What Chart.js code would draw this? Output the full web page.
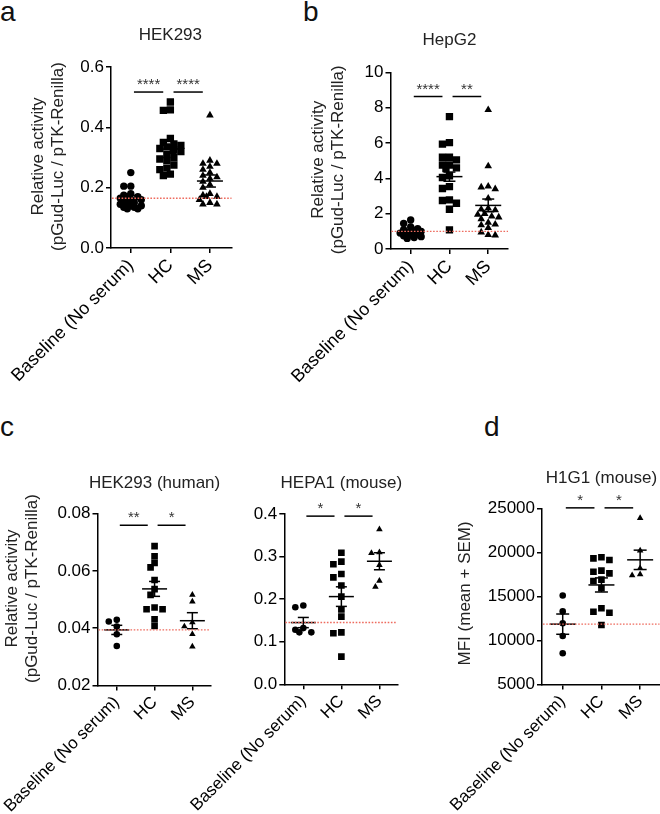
<!DOCTYPE html>
<html><head><meta charset="utf-8">
<script src="https://cdn.jsdelivr.net/npm/chart.js@4.4.1/dist/chart.umd.min.js"></script>
<style>
html,body{margin:0;padding:0;background:#fff;}
body{width:660px;height:814px;overflow:hidden;position:relative;}
canvas{position:absolute;}
.lt{position:absolute;font-family:'Liberation Sans',Arial,sans-serif;font-size:28px;line-height:28px;color:#111;}
</style></head><body>
<div class="lt" style="left:0;top:-2px">a</div>
<div class="lt" style="left:303px;top:-2px">b</div>
<div class="lt" style="left:0;top:413px">c</div>
<div class="lt" style="left:484px;top:413px">d</div>
<canvas id="pa" width="245" height="400" style="left:0;top:0"></canvas>
<canvas id="pb" width="240" height="400" style="left:280px;top:0"></canvas>
<canvas id="pc1" width="218" height="414" style="left:2px;top:400px"></canvas>
<canvas id="pc2" width="225" height="414" style="left:185px;top:400px"></canvas>
<canvas id="pd" width="230" height="414" style="left:430px;top:400px"></canvas>
<script>
// ---------------- data ----------------
const categories = ['Baseline (No serum)', 'HC', 'MS'];

// a: HEK293
const aBaseline = [0.25, 0.205, 0.205, 0.18, 0.175, 0.17, 0.17, 0.165, 0.16, 0.16, 0.155, 0.15, 0.15, 0.145, 0.14, 0.14, 0.135, 0.135, 0.13, 0.13];
const aHC = [0.484, 0.458, 0.456, 0.363, 0.35, 0.345, 0.34, 0.335, 0.33, 0.325, 0.32, 0.31, 0.30, 0.295, 0.29, 0.275, 0.265, 0.26, 0.245, 0.24];
const aMS = [0.44, 0.29, 0.28, 0.28, 0.27, 0.26, 0.25, 0.24, 0.235, 0.23, 0.22, 0.21, 0.2, 0.18, 0.175, 0.17, 0.17, 0.16, 0.15, 0.145, 0.145];
const aMeans = [0.165, 0.328, 0.222];
const aSEM = [0.009, 0.014, 0.02];
const aTicks = [0, 0.2, 0.4, 0.6];
const aTickLabels = ['0.0', '0.2', '0.4', '0.6'];
const aStars = ['****', '****'];
const aStarLevel = 0.517;

// b: HepG2
const bBaseline = [1.64, 1.45, 1.25, 1.15, 1.1, 1.05, 1.0, 0.95, 0.9, 0.85, 0.8, 0.75, 0.7, 0.65, 0.6];
const bHC = [7.5, 6.03, 5.94, 5.2, 5.2, 5.05, 4.76, 4.76, 4.6, 4.55, 4.15, 4.05, 3.53, 3.43, 2.78, 2.75, 2.59, 2.25, 1.08];
const bMS = [7.88, 4.7, 3.55, 3.5, 3.4, 2.87, 2.3, 2.25, 2.2, 2.0, 1.95, 1.85, 1.8, 1.7, 1.5, 1.4, 1.35, 1.2, 0.95, 0.8, 0.78];
const bMeans = [1.0, 4.1, 2.47];
const bSEM = [0.08, 0.26, 0.36];
const bTicks = [0, 2, 4, 6, 8, 10];
const bTickLabels = ['0', '2', '4', '6', '8', '10'];
const bStars = ['****', '**'];
const bStarLevel = 8.64;

// c: HEK293 (human)
const chBaseline = [0.0423, 0.0429, 0.0406, 0.0379, 0.0338];
const chHC = [0.0686, 0.0651, 0.0628, 0.0612, 0.0568, 0.0536, 0.0516, 0.0466, 0.0466, 0.0472, 0.0431, 0.0408];
const chMS = [0.0516, 0.0493, 0.042, 0.0406, 0.0379, 0.0336];
const chMeans = [0.0394, 0.0537, 0.0426];
const chSEM = [0.0016, 0.0026, 0.0028];
const chTicks = [0.02, 0.04, 0.06, 0.08];
const chTickLabels = ['0.02', '0.04', '0.06', '0.08'];
const chStars = ['**', '*'];
const chStarLevel = 0.0759;

// c: HEPA1 (mouse)
const cmBaseline = [0.185, 0.181, 0.132, 0.128, 0.122, 0.122];
const cmHC = [0.309, 0.288, 0.282, 0.259, 0.251, 0.232, 0.206, 0.176, 0.159, 0.122, 0.12, 0.065];
const cmMS = [0.364, 0.31, 0.308, 0.28, 0.243, 0.229];
const cmMeans = [0.145, 0.206, 0.289];
const cmSEM = [0.012, 0.023, 0.02];
const cmTicks = [0, 0.1, 0.2, 0.3, 0.4];
const cmTickLabels = ['0.0', '0.1', '0.2', '0.3', '0.4'];
const cmStars = ['*', '*'];
const cmStarLevel = 0.395;

// d: H1G1 (mouse)
const dBaseline = [15100, 13300, 11950, 10500, 8550];
const dHC = [19440, 19130, 19320, 17800, 17620, 17920, 16750, 16900, 15920, 13260, 13150, 13650, 11750];
const dMS = [23900, 20200, 18200, 17500, 17400];
const dMeans = [11850, 16300, 19150];
const dSEM = [1150, 800, 1100];
const dTicks = [5000, 10000, 15000, 20000, 25000];
const dTickLabels = ['5000', '10000', '15000', '20000', '25000'];
const dStars = ['*', '*'];
const dStarLevel = 25050;

// ---------------- drawing ----------------
const FONT = "'Liberation Sans', Arial, Helvetica, sans-serif";
Chart.defaults.font.family = FONT;

function makePlugin(p) {
  return {
    id: 'panelExtras',
    afterDatasetsUpdate(chart) {
      const sw = p.swarm;
      chart.data.datasets.forEach((ds, di) => {
        const meta = chart.getDatasetMeta(di);
        const els = meta.data.slice().sort((a, b) => a.y - b.y);
        const placed = [];
        els.forEach(el => {
          const cx = el.x;
          let best = 0, bestScore = -1;
          const n = Math.ceil(sw.max / sw.step);
          for (let k = 0; k <= 2 * n; k++) {
            const off = (k % 2 ? -1 : 1) * Math.ceil(k / 2) * sw.step;
            let minD = Infinity;
            placed.forEach(q => {
              const d = Math.hypot(q.x - (cx + off), q.y - el.y);
              if (d < minD) minD = d;
            });
            if (minD >= sw.dist) { best = off; bestScore = Infinity; break; }
            if (minD > bestScore) { bestScore = minD; best = off; }
          }
          el.x = cx + best;
          placed.push({x: el.x, y: el.y});
        });
      });
    },
    afterDatasetsDraw(chart) {
      const c = chart.ctx, xs = chart.scales.x, ys = chart.scales.y, ca = chart.chartArea;
      c.save();
      c.strokeStyle = '#000';
      c.lineWidth = 1.5;
      const seg = (x1, y1, x2, y2) => { c.beginPath(); c.moveTo(x1, y1); c.lineTo(x2, y2); c.stroke(); };
      // mean +/- SEM
      p.means.forEach((m, i) => {
        const x = xs.getPixelForValue(i);
        const ym = ys.getPixelForValue(m);
        const yt = ys.getPixelForValue(m + p.sems[i]);
        const yb = ys.getPixelForValue(m - p.sems[i]);
        seg(x - p.meanHalf, ym, x + p.meanHalf, ym);
        seg(x, yt, x, yb);
        seg(x - p.capHalf, yt, x + p.capHalf, yt);
        seg(x - p.capHalf, yb, x + p.capHalf, yb);
      });
      // significance bars
      const yS = ys.getPixelForValue(p.starLevel);
      c.fillStyle = '#333';
      c.font = '15px ' + FONT;
      c.textAlign = 'center';
      c.textBaseline = 'alphabetic';
      p.stars.forEach((s, i) => {
        const x1 = xs.getPixelForValue(i + 0.08), x2 = xs.getPixelForValue(i + 0.82);
        seg(x1, yS, x2, yS);
        c.fillText(s, (x1 + x2) / 2, yS - 3);
      });
      // baseline reference line (red dotted)
      const yr = ys.getPixelForValue(p.means[0]);
      c.strokeStyle = '#ee6b5e';
      c.lineWidth = 1.4;
      c.setLineDash([1.6, 1.6]);
      seg(ca.left + 1, yr, ca.right, yr);
      c.setLineDash([]);
      // panel title
      c.fillStyle = '#222';
      c.font = '17px ' + FONT;
      c.fillText(p.title, xs.getPixelForValue(1), p.titleY);
      // y-axis title (rotated, one or two lines)
      if (p.yTitle) {
        c.save();
        c.translate(p.pad.left + 10, (ca.top + ca.bottom) / 2 + p.yTitleShift);
        c.rotate(-Math.PI / 2);
        c.textBaseline = 'middle';
        c.fillStyle = '#222';
        p.yTitle.forEach((t, i) => c.fillText(t, 0, i * 20));
        c.restore();
      }
      c.restore();
    }
  };
}

function panel(id, p) {
  const shapes = ['circle', 'rect', 'triangle'];
  new Chart(document.getElementById(id), {
    type: 'scatter',
    data: {
      datasets: p.groups.map((vals, i) => ({
        data: vals.map(v => ({x: i, y: v})),
        pointStyle: shapes[i],
        pointRadius: p.r[i],
        pointHoverRadius: p.r[i],
        pointBackgroundColor: '#000',
        pointBorderColor: '#000',
        pointBorderWidth: 0
      }))
    },
    options: {
      responsive: false,
      animation: false,
      events: [],
      layout: {padding: p.pad, autoPadding: false},
      plugins: {legend: {display: false}, tooltip: {enabled: false}},
      scales: {
        x: {
          type: 'linear', min: p.xMin, max: p.xMax,
          afterBuildTicks: s => { s.ticks = [0, 1, 2].map(v => ({value: v})); },
          afterFit: s => { s.height = p.xH; s.paddingLeft = 0; s.paddingRight = 0; },
          ticks: {callback: v => categories[v], minRotation: 45, maxRotation: 45, autoSkip: false,
                  color: '#000', font: {size: p.catSize}, padding: 2},
          grid: {display: true, drawOnChartArea: false, drawTicks: true, tickLength: 5, color: '#000', lineWidth: 1.5},
          border: {display: true, color: '#000', width: 1.5}
        },
        y: {
          type: 'linear', min: p.ticks[0], max: p.ticks[p.ticks.length - 1],
          afterBuildTicks: s => { s.ticks = p.ticks.map(v => ({value: v})); },
          afterFit: s => { s.width = p.yW; s.paddingTop = 0; s.paddingBottom = 0; },
          ticks: {callback: v => p.tickLabels[p.ticks.indexOf(v)], color: '#000', font: {size: 17}, padding: 2},
          grid: {display: true, drawOnChartArea: false, drawTicks: true, tickLength: 5, color: '#000', lineWidth: 1.5},
          border: {display: true, color: '#000', width: 1.5},
          title: {display: false}
        }
      }
    },
    plugins: [makePlugin(p)]
  });
}

const relTitle = ['Relative activity', '(pGud-Luc / pTK-Renilla)'];
const bigMarks = [3.7, 5.2, 4.4];
const smallMarks = [3.3, 4.7, 3.8];

panel('pa', {groups: [aBaseline, aHC, aMS], means: aMeans, sems: aSEM, ticks: aTicks, tickLabels: aTickLabels,
  stars: aStars, starLevel: aStarLevel, title: 'HEK293', titleY: 40, yTitle: relTitle, yTitleShift: -1,
  xMin: -0.5, xMax: 2.545, pad: {left: 28, top: 67, right: 13.5, bottom: 0}, yW: 83, xH: 152, catSize: 18,
  r: bigMarks, swarm: {step: 3.5, dist: 6, max: 10}, meanHalf: 13, capHalf: 6});

panel('pb', {groups: [bBaseline, bHC, bMS], means: bMeans, sems: bSEM, ticks: bTicks, tickLabels: bTickLabels,
  stars: bStars, starLevel: bStarLevel, title: 'HepG2', titleY: 45, yTitle: relTitle, yTitleShift: -1,
  xMin: -0.52, xMax: 2.51, pad: {left: 28, top: 72.5, right: 12, bottom: 0}, yW: 82.5, xH: 151, catSize: 18,
  r: bigMarks, swarm: {step: 3.5, dist: 6, max: 10}, meanHalf: 13, capHalf: 6});

panel('pc1', {groups: [chBaseline, chHC, chMS], means: chMeans, sems: chSEM, ticks: chTicks, tickLabels: chTickLabels,
  stars: chStars, starLevel: chStarLevel, title: 'HEK293 (human)', titleY: 88.3, yTitle: relTitle, yTitleShift: -11,
  xMin: -0.51, xMax: 2.48, pad: {left: 0, top: 113.5, right: 9.5, bottom: 0}, yW: 95.5, xH: 128.5, catSize: 17,
  r: smallMarks, swarm: {step: 4, dist: 6, max: 9}, meanHalf: 12.5, capHalf: 5.5});

panel('pc2', {groups: [cmBaseline, cmHC, cmMS], means: cmMeans, sems: cmSEM, ticks: cmTicks, tickLabels: cmTickLabels,
  stars: cmStars, starLevel: cmStarLevel, title: 'HEPA1 (mouse)', titleY: 88.3, yTitle: null, yTitleShift: 0,
  xMin: -0.5, xMax: 2.47, pad: {left: 0, top: 114, right: 12.7, bottom: 0}, yW: 99.3, xH: 129.7, catSize: 17,
  r: smallMarks, swarm: {step: 4, dist: 6, max: 9}, meanHalf: 12.5, capHalf: 5.5});

panel('pd', {groups: [dBaseline, dHC, dMS], means: dMeans, sems: dSEM, ticks: dTicks, tickLabels: dTickLabels,
  stars: dStars, starLevel: dStarLevel, title: 'H1G1 (mouse)', titleY: 83.3, yTitle: ['MFI (mean + SEM)'], yTitleShift: -3,
  xMin: -0.535, xMax: 2.5, pad: {left: 25, top: 108.3, right: 0.5, bottom: 0}, yW: 87, xH: 129.5, catSize: 17,
  r: smallMarks, swarm: {step: 4, dist: 6, max: 9}, meanHalf: 13, capHalf: 6.5});
</script>
</body></html>
